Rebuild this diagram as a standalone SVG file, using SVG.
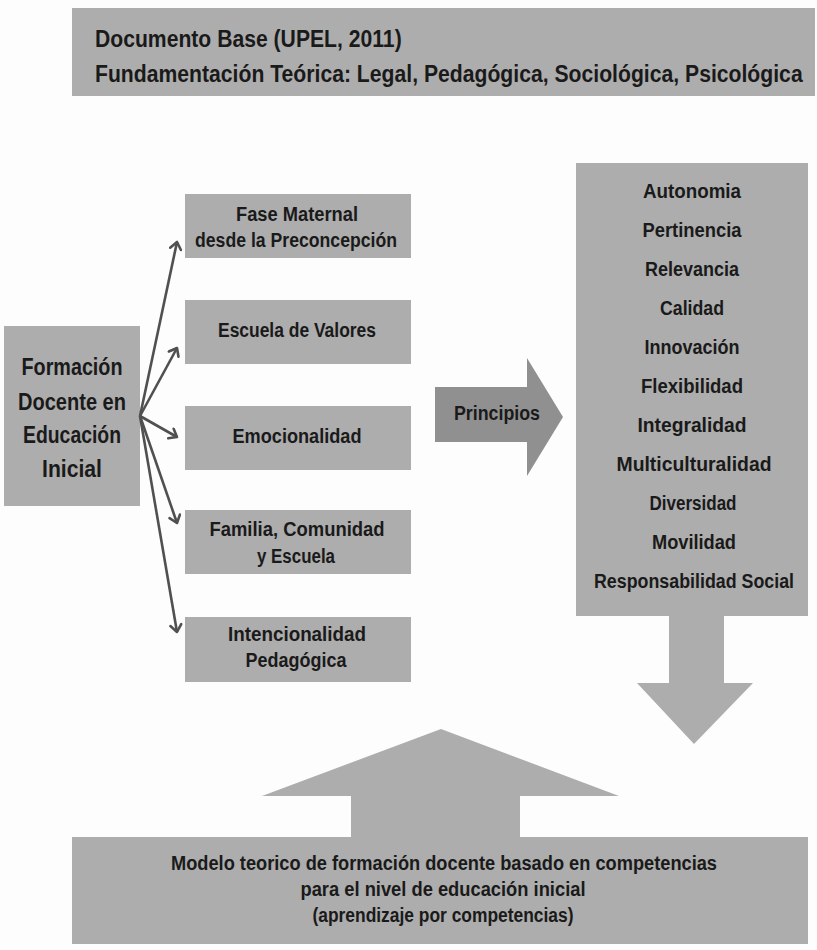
<svg xmlns="http://www.w3.org/2000/svg" width="817" height="950" viewBox="0 0 817 950">
<defs>
<style>
.box{fill:#adadad}
.t{font-family:"Liberation Sans",Arial,sans-serif;font-weight:bold;fill:#1a1a1a;text-anchor:middle}
.tl{font-family:"Liberation Sans",Arial,sans-serif;font-weight:bold;fill:#1a1a1a}
.c{stroke:#505050;stroke-width:2.6;fill:none}
</style>
<marker id="ah" markerUnits="userSpaceOnUse" markerWidth="14" markerHeight="14" refX="10" refY="7" orient="auto" viewBox="0 0 14 14">
<path d="M3,1.5 L10,7 L3,12.5" fill="none" stroke="#505050" stroke-width="2.6" stroke-linecap="round" stroke-linejoin="round"/>
</marker>
</defs>
<rect width="817" height="950" fill="#fdfdfd"/>

<g id="top">
<rect class="box" x="72" y="8" width="743" height="88"/>
<g transform="translate(95,47) scale(0.82,1)">
<text class="tl" x="0" y="0" font-size="24" textLength="374" lengthAdjust="spacingAndGlyphs">Documento Base (UPEL, 2011)</text>
</g>
<g transform="translate(95,82) scale(0.82,1)">
<text class="tl" x="0" y="0" font-size="24" textLength="863" lengthAdjust="spacingAndGlyphs">Fundamentación Teórica: Legal, Pedagógica, Sociológica, Psicológica</text>
</g>
</g>

<g id="formacion">
<rect class="box" x="4" y="326" width="136" height="180"/>
<text class="t" x="72" y="375" font-size="24" textLength="101" lengthAdjust="spacingAndGlyphs">Formación</text>
<text class="t" x="72" y="410" font-size="24" textLength="108" lengthAdjust="spacingAndGlyphs">Docente en</text>
<text class="t" x="72" y="443" font-size="24" textLength="98" lengthAdjust="spacingAndGlyphs">Educación</text>
<text class="t" x="72" y="477" font-size="24" textLength="60" lengthAdjust="spacingAndGlyphs">Inicial</text>
</g>

<g id="fase">
<rect class="box" x="185" y="194" width="226" height="64"/>
<text class="t" x="297" y="221" font-size="20" textLength="122" lengthAdjust="spacingAndGlyphs">Fase Maternal</text>
<text class="t" x="296" y="247" font-size="20" textLength="202" lengthAdjust="spacingAndGlyphs">desde la Preconcepción</text>
</g>
<g id="escuela">
<rect class="box" x="185" y="300" width="226" height="64"/>
<text class="t" x="297" y="337" font-size="20" textLength="158" lengthAdjust="spacingAndGlyphs">Escuela de Valores</text>
</g>
<g id="emocionalidad">
<rect class="box" x="185" y="406" width="226" height="64"/>
<text class="t" x="297" y="443" font-size="20" textLength="129" lengthAdjust="spacingAndGlyphs">Emocionalidad</text>
</g>
<g id="familia">
<rect class="box" x="185" y="510" width="226" height="64"/>
<text class="t" x="297" y="536" font-size="20" textLength="175" lengthAdjust="spacingAndGlyphs">Familia, Comunidad</text>
<text class="t" x="296" y="563" font-size="20" textLength="78" lengthAdjust="spacingAndGlyphs">y Escuela</text>
</g>
<g id="intencionalidad">
<rect class="box" x="185" y="617" width="226" height="65"/>
<text class="t" x="297" y="641" font-size="20" textLength="138" lengthAdjust="spacingAndGlyphs">Intencionalidad</text>
<text class="t" x="296" y="667" font-size="20" textLength="101" lengthAdjust="spacingAndGlyphs">Pedagógica</text>
</g>

<g id="connectors">
<line class="c" x1="140" y1="416" x2="177" y2="242" marker-end="url(#ah)"/>
<line class="c" x1="140" y1="416" x2="177" y2="348" marker-end="url(#ah)"/>
<line class="c" x1="140" y1="416" x2="177" y2="437" marker-end="url(#ah)"/>
<line class="c" x1="140" y1="416" x2="177" y2="523" marker-end="url(#ah)"/>
<line class="c" x1="140" y1="416" x2="177" y2="632" marker-end="url(#ah)"/>
</g>

<g id="principios">
<polygon points="435,387 527,387 527,358 563,417 527,476 527,442 435,442" fill="#909090"/>
<text class="t" x="497" y="420" font-size="20" textLength="86" lengthAdjust="spacingAndGlyphs">Principios</text>
</g>

<g id="lista">
<rect class="box" x="576" y="163" width="232" height="453"/>
<text class="t" x="692" y="198" font-size="20" textLength="98" lengthAdjust="spacingAndGlyphs">Autonomia</text>
<text class="t" x="692" y="237" font-size="20" textLength="99" lengthAdjust="spacingAndGlyphs">Pertinencia</text>
<text class="t" x="692" y="276" font-size="20" textLength="94" lengthAdjust="spacingAndGlyphs">Relevancia</text>
<text class="t" x="692" y="315" font-size="20" textLength="64" lengthAdjust="spacingAndGlyphs">Calidad</text>
<text class="t" x="692" y="354" font-size="20" textLength="95" lengthAdjust="spacingAndGlyphs">Innovación</text>
<text class="t" x="692" y="393" font-size="20" textLength="102" lengthAdjust="spacingAndGlyphs">Flexibilidad</text>
<text class="t" x="692" y="432" font-size="20" textLength="109" lengthAdjust="spacingAndGlyphs">Integralidad</text>
<text class="t" x="694" y="471" font-size="20" textLength="155" lengthAdjust="spacingAndGlyphs">Multiculturalidad</text>
<text class="t" x="693" y="510" font-size="20" textLength="87" lengthAdjust="spacingAndGlyphs">Diversidad</text>
<text class="t" x="694" y="549" font-size="20" textLength="84" lengthAdjust="spacingAndGlyphs">Movilidad</text>
<text class="t" x="694" y="588" font-size="20" textLength="200" lengthAdjust="spacingAndGlyphs">Responsabilidad Social</text>
</g>

<g id="flecha-abajo">
<polygon points="669,615 724,615 724,683 753,683 694,744 637,683 669,683" fill="#adadad"/>
</g>

<g id="flecha-arriba">
<polygon points="351,838 351,796 262,796 441,729 619,796 520,796 520,838" fill="#adadad"/>
</g>

<g id="modelo">
<rect class="box" x="72" y="837" width="736" height="107"/>
<text class="t" x="444" y="870" font-size="20" textLength="546" lengthAdjust="spacingAndGlyphs">Modelo teorico de formación docente basado en competencias</text>
<text class="t" x="443" y="896" font-size="20" textLength="285" lengthAdjust="spacingAndGlyphs">para el nivel de educación inicial</text>
<text class="t" x="443" y="922" font-size="20" textLength="261" lengthAdjust="spacingAndGlyphs">(aprendizaje por competencias)</text>
</g>
</svg>
